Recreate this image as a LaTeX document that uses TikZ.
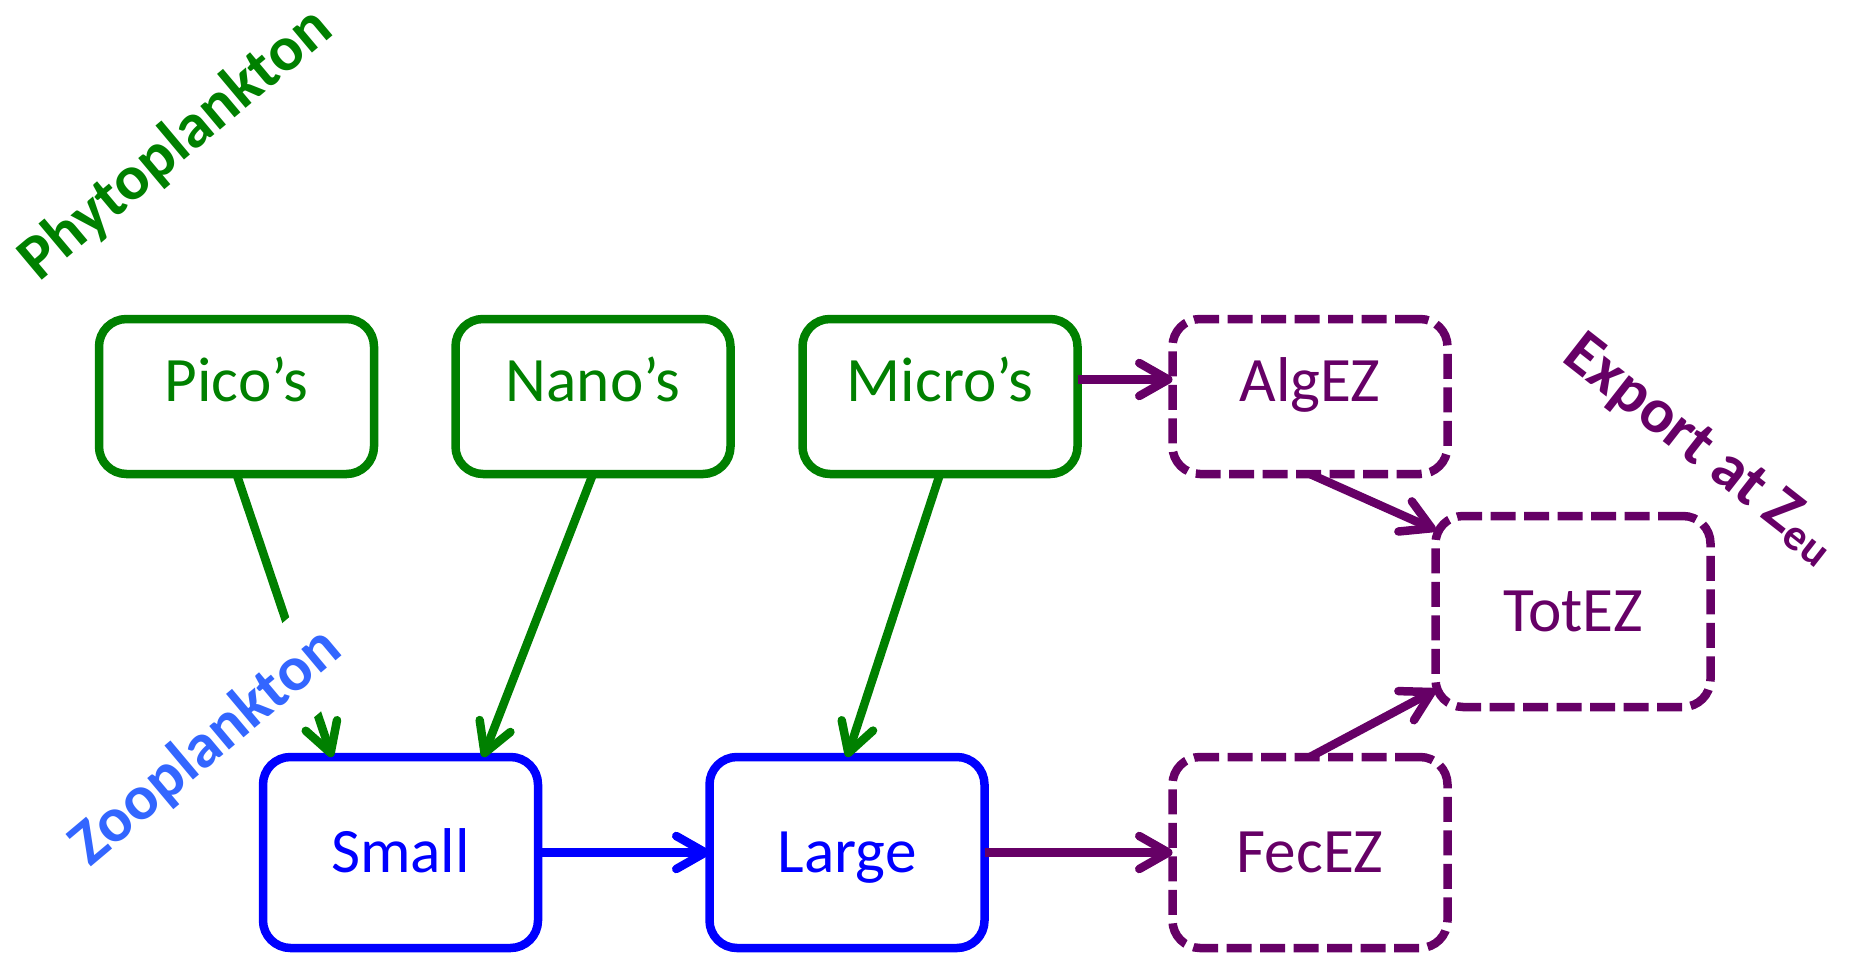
\documentclass[tikz,border=0pt]{standalone}
\usepackage{fontspec}
\setmainfont{Carlito}
\usepackage{tikz}
\usetikzlibrary{arrows.meta, positioning, calc}

\definecolor{phygreen}{RGB}{0,128,0}
\definecolor{zooblue}{RGB}{0,0,255}
\definecolor{zoolabel}{RGB}{51,102,255}
\definecolor{exppurple}{RGB}{102,0,102}

\tikzset{
  box/.style={line width=0.17cm, rounded corners=0.55cm, outer sep=0pt,
    minimum width=5.5cm, text height=0.9cm, text depth=0.1cm,
    font=\fontsize{36}{43}\selectfont},
  phybox/.style={box, draw=phygreen, text=phygreen, minimum height=3.1cm, text depth=0.72cm},
  zoobox/.style={box, draw=zooblue, text=zooblue, minimum height=3.82cm},
  expbox/.style={box, draw=exppurple, text=exppurple, minimum height=3.82cm,
    dash pattern=on 0.5cm off 0.17cm},
  flow/.style={line width=0.17cm, -{Straight Barb[length=0.58cm,width=0.66cm,round]}},
  grouplabel/.style={font=\fontsize{36}{43}\selectfont\bfseries, inner sep=0.25cm}
}

\begin{document}
\begin{tikzpicture}
  \useasboundingbox (0,0) rectangle (37.02,-19.08);

  % Phytoplankton size classes
  \node[phybox] (pico) at (4.73,-7.93) {Pico’s};
  \node[phybox] (nano) at (11.86,-7.93) {Nano’s};
  \node[phybox] (micro) at (18.80,-7.93) {Micro’s};

  % Zooplankton
  \node[zoobox] (small) at (8.01,-17.05) {Small};
  \node[zoobox] (large) at (16.94,-17.05) {Large};

  % Export
  \node[expbox, minimum height=3.1cm, text depth=0.72cm] (algez) at (26.20,-7.93) {AlgEZ};
  \node[expbox] (fecez) at (26.20,-17.05) {FecEZ};
  \node[expbox] (totez) at (31.46,-12.23) {TotEZ};

  % Grazing
  \draw[flow, phygreen] (pico.south) -- ([xshift=1.38cm]small.north west);
  \draw[flow, phygreen] (nano.south) -- ([xshift=4.4cm]small.north west);
  \draw[flow, phygreen] (micro.south) -- (large.north);
  \draw[flow, zooblue] (small.east) -- (large.west);

  % Export fluxes
  \draw[flow, exppurple] ([yshift=0.34cm]micro.east) -- ([yshift=0.34cm]algez.west);
  \draw[flow, exppurple] (large.east) -- (fecez.west);
  \draw[flow, exppurple] (algez.south) -- ([yshift=-0.28cm]totez.north west);
  \draw[flow, exppurple] (fecez.north) -- ([yshift=0.34cm]totez.south west);

  % Group labels
  \node[grouplabel, text=phygreen, rotate=40] (phylabel) at (3.52,-2.9) {Phytoplankton};
  \node[grouplabel, text=zoolabel, fill=white, inner sep=0.38cm, rotate=40] (zoolbl) at (4.12,-14.95) {Zooplankton};
  \node[grouplabel, text=exppurple, rotate=-38] (explabel) at (34.0,-9.0) {Export at Z\textsubscript{eu}};
\end{tikzpicture}
\end{document}
